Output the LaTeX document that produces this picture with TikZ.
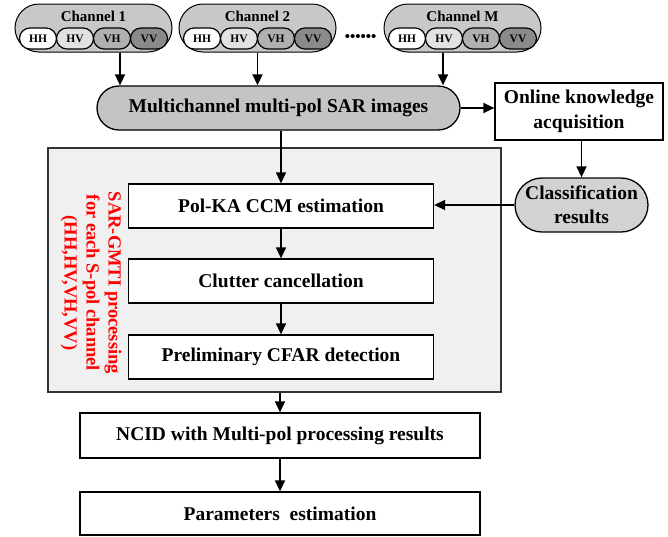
\documentclass[tikz,border=0pt]{standalone}
\usepackage{fontspec}
\setmainfont{Liberation Serif}
\usetikzlibrary{arrows.meta,shapes.misc}
\definecolor{chanfill}{HTML}{C8C8C8}
\definecolor{hvfill}{HTML}{E2E2E2}
\definecolor{vhfill}{HTML}{B0B0B0}
\definecolor{vvfill}{HTML}{8A8A8A}
\definecolor{bigfill}{HTML}{F0F0F0}
\definecolor{multifill}{HTML}{C4C4C4}
\definecolor{clsfill}{HTML}{D2D2D2}
\begin{document}
\begin{tikzpicture}[x=1pt,y=-1pt,
  arr/.style={-{Triangle[length=11pt,width=10pt]}, line width=1.5pt},
  chanbox/.style={draw, line width=1pt, fill=chanfill, rounded rectangle, minimum width=157pt, minimum height=48pt, inner sep=0pt},
  chantitle/.style={font=\bfseries\fontsize{15}{16}\selectfont, inner sep=0pt},
  polbox/.style={draw, line width=1.2pt, rounded rectangle, minimum width=37pt, minimum height=21pt, inner sep=0pt, font=\bfseries\fontsize{11.5}{12}\selectfont},
  procbox/.style={draw, line width=1.3pt, fill=white, minimum height=44pt, inner sep=2pt, font=\bfseries\fontsize{19.5}{22}\selectfont, align=center},
  pillbox/.style={draw, line width=1.3pt, rounded rectangle, inner sep=2pt, font=\bfseries\fontsize{19.5}{22}\selectfont, align=center}
]
\useasboundingbox (0,0) rectangle (668,536);

% big background box
\node[draw, line width=1.3pt, draw=black!80, fill=bigfill, minimum width=453pt, minimum height=244pt, inner sep=0pt] (big) at (274.5,270) {};

% channels
\foreach \n/\cx/\lab in {c1/93.5/Channel 1, c2/257.5/Channel 2, cm/462.5/Channel M}{
  \node[chanbox] (\n) at (\cx,28) {};
  \node[chantitle] (\n t) at (\cx,16) {\lab};
  \node[polbox, fill=white] (\n hh) at (\cx-55.5,38.5) {HH};
  \node[polbox, fill=hvfill] (\n hv) at (\cx-18.5,38.5) {HV};
  \node[polbox, fill=vhfill] (\n vh) at (\cx+18.5,38.5) {VH};
  \node[polbox, fill=vvfill] (\n vv) at (\cx+55.5,38.5) {VV};
}
\node[font=\bfseries\fontsize{15}{15}\selectfont, inner sep=0pt] (dots) at (360.5,38) {••••••};

% main nodes
\node[pillbox, fill=multifill, minimum width=367pt, minimum height=44pt] (multi) at (278.5,108) {Multichannel multi-pol SAR images};
\node[procbox, minimum width=168pt, minimum height=57pt] (online) at (579,111.5) {Online knowledge\\[3pt]acquisition};
\node[pillbox, fill=clsfill, minimum width=137pt, minimum height=54pt] (cls) at (581.5,205) {Classification\\[2pt]results};

\node[procbox, minimum width=305pt] (polka) at (281,206) {Pol-KA CCM estimation};
\node[procbox, minimum width=305pt] (clutter) at (281,281) {Clutter cancellation};
\node[procbox, minimum width=305pt] (cfar) at (281,357) {Preliminary CFAR detection};

\node[procbox, minimum width=400pt, minimum height=45pt] (ncid) at (280,435.5) {NCID with Multi-pol processing results};
\node[procbox, minimum width=400pt, minimum height=43pt] (param) at (280,513.5) {Parameters\ \ estimation};

\node[rotate=-90, text=red, font=\bfseries\fontsize{18.5}{22}\selectfont, align=center, inner sep=0pt] (red) at (91,283) {SAR-GMTI processing\\for each S-pol channel\\(HH,HV,VH,VV)};

% connectors
\draw[arr] ([xshift=26.5pt]c1.south) -- ([xshift=26.5pt]c1.south |- multi.north);
\draw[arr] (c2.south) -- (c2.south |- multi.north);
\draw[arr] ([xshift=-19.5pt]cm.south) -- ([xshift=-19.5pt]cm.south |- multi.north);
\draw[arr] (multi.east) -- (multi.east -| online.west);
\draw[arr] (online.south -| cls) -- (cls.north);
\draw[arr] (cls.west) -- (cls.west -| polka.east);
\draw[arr] (multi.south -| polka) -- (polka.north);
\draw[arr] (polka) -- (clutter);
\draw[arr] (clutter) -- (cfar);
\draw[arr] (big.south -| ncid) -- (ncid.north);
\draw[arr] (ncid) -- (param);
\end{tikzpicture}
\end{document}
